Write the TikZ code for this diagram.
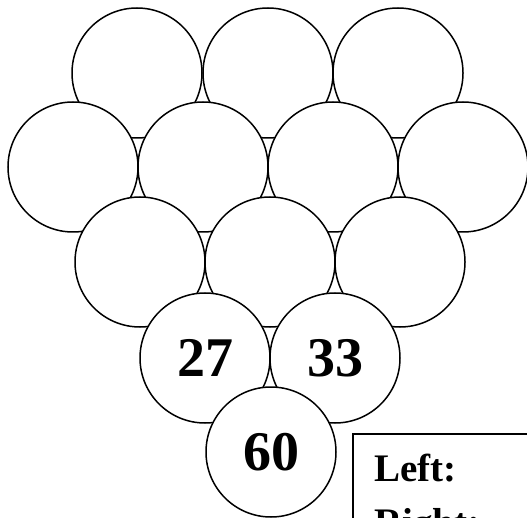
\documentclass[tikz,border=0pt]{standalone}
\usepackage{fontspec}
\setmainfont{Liberation Serif}
\begin{document}
\begin{tikzpicture}[x=1pt,y=-1pt,
  ball/.style={circle,draw=black,line width=1.5pt,fill=white,minimum size=130pt,inner sep=0pt,
    font=\fontsize{56}{56}\selectfont\bfseries},
  legend/.style={anchor=base west,inner sep=0pt,font=\fontsize{39}{39}\selectfont\bfseries}]
\useasboundingbox (0,0) rectangle (527,518);
\clip (0,0) rectangle (527,518);
% top row
\node[ball] (a1) at (137,73) {};
\node[ball] (a2) at (268,73) {};
\node[ball] (a3) at (398,73) {};
% second row
\node[ball] (b1) at (73,167) {};
\node[ball] (b2) at (203,167) {};
\node[ball] (b3) at (333,167) {};
\node[ball] (b4) at (463,167) {};
% third row
\node[ball] (c1) at (140,262) {};
\node[ball] (c2) at (270,262) {};
\node[ball] (c3) at (400,262) {};
% fourth row
\node[ball] (d1) at (205,358) {27};
\node[ball] (d2) at (335,358) {33};
% bottom
\node[ball] (e1) at (271,452) {60};
% legend box running off the page
\draw[line width=2pt,fill=white] (353,434) rectangle (620,620);
\node[legend] (lleft) at (374,481) {Left:};
\node[legend] (lright) at (374,535) {Right:};
\end{tikzpicture}
\end{document}
